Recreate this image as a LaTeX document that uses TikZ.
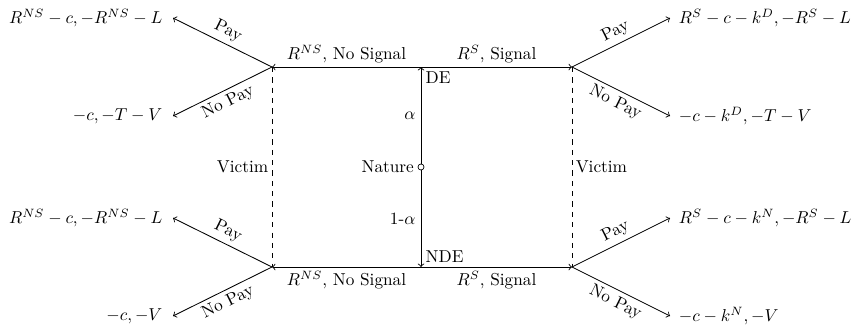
\documentclass[tikz,border=0pt]{standalone}
\begin{document}
\begin{tikzpicture}[x=0.58pt,y=-0.58pt,
  edge/.style={->,line width=0.5pt},
  payoffL/.style={anchor=east,inner sep=3pt},
  payoffR/.style={anchor=west,inner sep=3pt},
  lbl/.style={sloped,inner sep=2.5pt}]
\useasboundingbox (0,0) rectangle (860,330);
% decision points
\coordinate (tl) at (272,67);
\coordinate (tr) at (572,67);
\coordinate (bl) at (272,267);
\coordinate (br) at (572,267);
\coordinate (de) at (421,67);
\coordinate (nde) at (421,267);
\node[circle,draw,fill=white,inner sep=0pt,minimum size=3.5pt] (nat) at (421,167) {};
\node[left,inner sep=2pt] (natlbl) at (nat.west) {Nature};
% arrow end points
\coordinate (tlp) at (173,18);
\coordinate (tln) at (173,116);
\coordinate (trp) at (670,18);
\coordinate (trn) at (670,116);
\coordinate (blp) at (173,218);
\coordinate (bln) at (173,316);
\coordinate (brp) at (670,218);
\coordinate (brn) at (670,316);
% nature moves
\draw[edge] (nat) -- node[left,inner sep=3pt]{$\alpha$} (de);
\draw[edge] (nat) -- node[left,inner sep=3pt]{1-$\alpha$} (nde);
\node[below right,inner sep=2.5pt] (delbl) at (de) {DE};
\node[above right,inner sep=2.5pt] (ndelbl) at (nde) {NDE};
% signal moves
\draw[edge] (de) -- node[above,inner sep=2pt]{$R^{NS}$, No Signal} (tl);
\draw[edge] (de) -- node[above,inner sep=2pt]{$R^{S}$, Signal} (tr);
\draw[edge] (nde) -- node[below,inner sep=2pt]{$R^{NS}$, No Signal} (bl);
\draw[edge] (nde) -- node[below,inner sep=2pt]{$R^{S}$, Signal} (br);
% information sets
\draw[dashed] (tl) -- node[left,inner sep=2pt]{Victim} (bl);
\draw[dashed] (tr) -- node[right,inner sep=2pt]{Victim} (br);
% victim moves
\draw[edge,<-] (tlp) -- node[lbl,above]{Pay} (tl);
\draw[edge,<-] (tln) -- node[lbl,below]{No Pay} (tl);
\draw[edge] (tr) -- node[lbl,above]{Pay} (trp);
\draw[edge] (tr) -- node[lbl,below]{No Pay} (trn);
\draw[edge,<-] (blp) -- node[lbl,above]{Pay} (bl);
\draw[edge,<-] (bln) -- node[lbl,below]{No Pay} (bl);
\draw[edge] (br) -- node[lbl,above]{Pay} (brp);
\draw[edge] (br) -- node[lbl,below]{No Pay} (brn);
% payoffs
\node[payoffL] (o1) at ([xshift=-3pt]tlp) {$R^{NS}-c,-R^{NS}-L$};
\node[payoffL] (o2) at ([xshift=-3pt]tln) {$-c,-T-V$};
\node[payoffR] (o3) at ([xshift=2pt]trp) {$R^{S}-c-k^{D},-R^{S}-L$};
\node[payoffR] (o4) at ([xshift=2pt]trn) {$-c-k^{D},-T-V$};
\node[payoffL] (o5) at ([xshift=-3pt]blp) {$R^{NS}-c,-R^{NS}-L$};
\node[payoffL] (o6) at ([xshift=-3pt]bln) {$-c,-V$};
\node[payoffR] (o7) at ([xshift=2pt]brp) {$R^{S}-c-k^{N},-R^{S}-L$};
\node[payoffR] (o8) at ([xshift=2pt]brn) {$-c-k^{N},-V$};
\end{tikzpicture}
\end{document}
